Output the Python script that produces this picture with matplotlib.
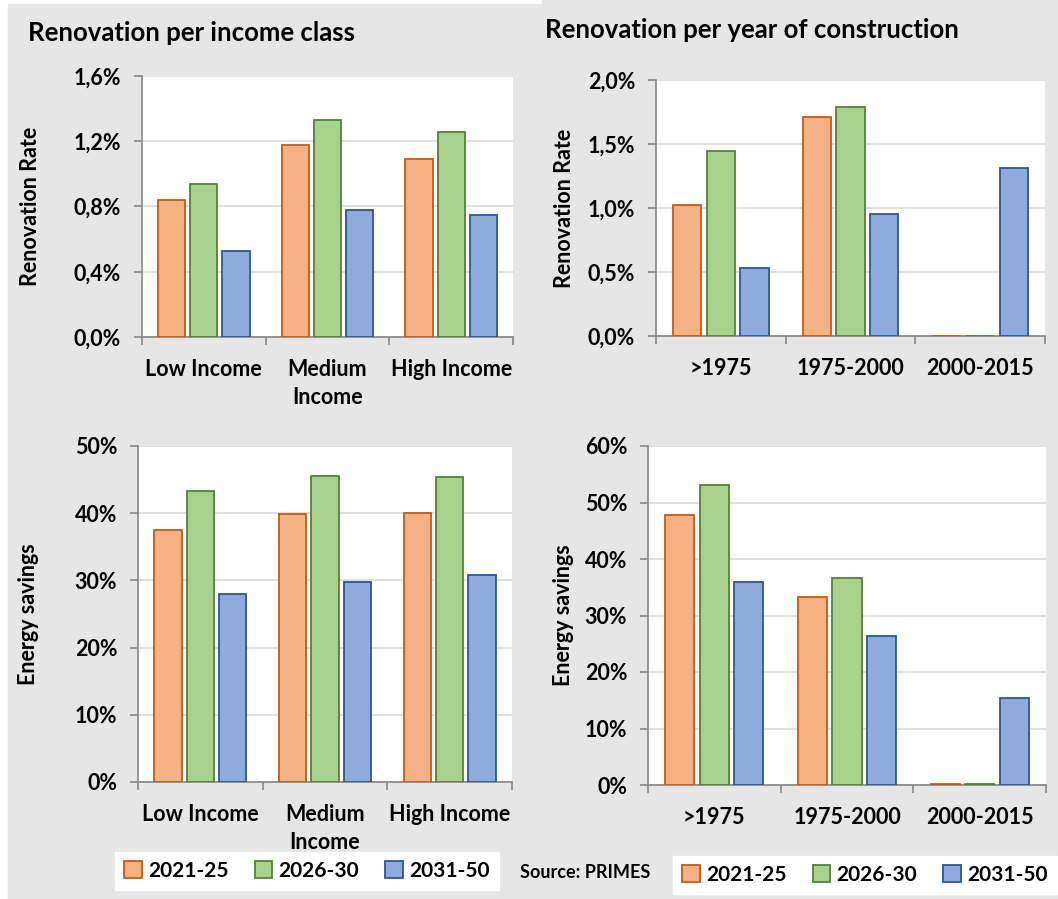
import matplotlib
matplotlib.use("Agg")
import matplotlib.pyplot as plt
from matplotlib.patches import Rectangle, Patch
from matplotlib.ticker import FuncFormatter, FixedLocator
import numpy as np

plt.rcParams['font.family'] = ['Lato', 'DejaVu Sans']
plt.rcParams['font.weight'] = 'bold'

periods = ['2021-25', '2026-30', '2031-50']
income_classes = ['Low Income', 'Medium\nIncome', 'High Income']
construction_years = ['>1975', '1975-2000', '2000-2015']

# renovation rate, % per year
rate_income = {
    '2021-25': [0.84, 1.18, 1.09],
    '2026-30': [0.94, 1.33, 1.255],
    '2031-50': [0.53, 0.78, 0.745],
}
rate_construction = {
    '2021-25': [1.02, 1.71, 0.0],
    '2026-30': [1.445, 1.79, 0.0],
    '2031-50': [0.53, 0.957, 1.315],
}
# energy savings per renovation, %
savings_income = {
    '2021-25': [37.5, 39.85, 40.1],
    '2026-30': [43.3, 45.5, 45.45],
    '2031-50': [28.0, 29.7, 30.75],
}
savings_construction = {
    '2021-25': [47.85, 33.35, 0.1],
    '2026-30': [53.1, 36.65, 0.1],
    '2031-50': [35.95, 26.45, 15.4],
}

fills = {'2021-25': '#f4b183', '2026-30': '#a9d18e', '2031-50': '#8faadc'}
edges = {'2021-25': '#c55a11', '2026-30': '#548235', '2031-50': '#2f5597'}

W, H = 1058, 899
fig = plt.figure(figsize=(W / 100, H / 100), dpi=100, facecolor='white')

# grey panel behind everything
fig.patches.append(Rectangle((8 / W, 0), 1 - 8 / W, 1 - 4 / H,
                             transform=fig.transFigure, color='#e6e6e6', zorder=-10))
fig.patches.append(Rectangle((542 / W, 0), 1 - 542 / W, 1,
                             transform=fig.transFigure, color='#e6e6e6', zorder=-10))


def px_axes(x0, y0, x1, y1):
    return fig.add_axes([x0 / W, 1 - y1 / H, (x1 - x0) / W, (y1 - y0) / H])


def comma_pct(decimals):
    def fmt(v, _):
        return f"{v:.{decimals}f}".replace('.', ',') + '%'
    return FuncFormatter(fmt)


def draw(ax, cats, data, ymax, ystep, decimals, ylabel, label_x):
    x = np.arange(len(cats))
    width, pitch = 0.22, 0.26
    for i, p in enumerate(periods):
        ax.bar(x + (i - 1) * pitch, data[p], width, color=fills[p],
               edgecolor=edges[p], linewidth=1.3, zorder=3)
    ax.set_facecolor('white')
    ax.set_xlim(-0.5, len(cats) - 0.5)
    ax.set_ylim(0, ymax)
    ax.set_yticks(np.arange(0, ymax + ystep / 2, ystep))
    ax.yaxis.set_major_formatter(comma_pct(decimals))
    ax.grid(axis='y', color='#d9d9d9', linewidth=1.2, zorder=0)
    for s in ('top', 'right'):
        ax.spines[s].set_visible(False)
    for s in ('left', 'bottom'):
        ax.spines[s].set_color('#868686')
        ax.spines[s].set_linewidth(1.2)
    ax.set_xticks(x)
    ax.set_xticklabels(cats, fontsize=15.5, fontweight='bold', linespacing=1.4)
    ax.xaxis.set_minor_locator(FixedLocator(np.arange(-0.5, len(cats), 1.0)))
    ax.tick_params(axis='x', which='major', length=0, pad=16)
    ax.tick_params(axis='x', which='minor', length=6, color='#868686', width=1.2)
    ax.tick_params(axis='y', length=6, color='#868686', width=1.2, pad=9,
                   labelsize=15.5)
    for t in ax.get_yticklabels():
        t.set_fontweight('bold')
    ax.set_ylabel(ylabel, fontsize=15.5, fontweight='bold')
    ax.yaxis.set_label_coords(label_x, 0.5)


ax_tl = px_axes(142, 76, 513, 337)
draw(ax_tl, income_classes, rate_income, 1.6, 0.4, 1, 'Renovation Rate', -0.272)
ax_tr = px_axes(656, 80, 1045, 336)
draw(ax_tr, construction_years, rate_construction, 2.0, 0.5, 1, 'Renovation Rate', -0.208)
ax_bl = px_axes(138, 446, 512, 782)
draw(ax_bl, income_classes, savings_income, 50, 10, 0, 'Energy savings', -0.265)
ax_br = px_axes(648, 446, 1046, 785)
draw(ax_br, construction_years, savings_construction, 60, 10, 0, 'Energy savings', -0.186)

fig.text(28 / W, 1 - 33 / H, 'Renovation per income class', fontsize=18.5,
         fontweight='bold', va='center', ha='left')
fig.text(545 / W, 1 - 30 / H, 'Renovation per year of construction', fontsize=18.5,
         fontweight='bold', va='center', ha='left')

handles = [Patch(facecolor=fills[p], edgecolor=edges[p], linewidth=1.3) for p in periods]
for cx, cy in ((307, 871), (865, 875)):
    leg = fig.legend(handles, periods, loc='center', bbox_to_anchor=(cx / W, 1 - cy / H),
                     ncol=3, frameon=True, fancybox=False, edgecolor='white',
                     facecolor='white', framealpha=1, handlelength=0.85,
                     handleheight=0.85, handletextpad=0.3, columnspacing=1.25,
                     borderpad=0.45, prop={'size': 15, 'weight': 'bold'})

fig.text(585 / W, 1 - 873 / H, 'Source: PRIMES', fontsize=13, fontweight='bold',
         ha='center', va='center')

fig.savefig('out.png', dpi=100, facecolor=fig.get_facecolor())
